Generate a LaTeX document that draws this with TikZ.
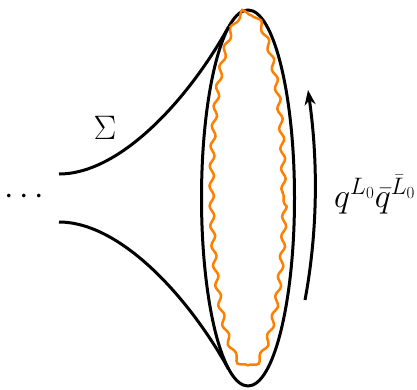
\RequirePackage{fix-cm}
\documentclass[tikz,border=0pt]{standalone}
\usepackage{xcolor}
\usepackage{tikz}
\usetikzlibrary{arrows.meta, decorations.pathmorphing}
\definecolor{loop-orange}{HTML}{FF8000}

\begin{document}
\begin{tikzpicture}[x=1pt, y=-1pt,
		tube/.style={
			draw=black, line width=3pt
		},
		wiggle/.style={
			draw=loop-orange, line width=2.5pt,
			decorate, decoration={snake, segment length=20pt, amplitude=2.2pt}
		},
		flow/.style={
			draw=black, line width=3pt,
			-{Stealth[length=15pt, width=11pt]}
		},
		lbl/.style={
			inner sep=0pt,
			font=\fontsize{34}{40}\selectfont
		}
		]
		
		\useasboundingbox (0,0) rectangle (417,389);
		
		% cut circle and the state on it
		\draw[tube] (248,198) ellipse [x radius=46.5pt, y radius=188pt];
		\draw[wiggle] (247.5,195) ellipse [x radius=36pt, y radius=178pt];
		
		% funnel ends
		\coordinate (upin) at (59,174);
		\coordinate (upout) at (228.5,27);
		\coordinate (lowin) at (59,222);
		\coordinate (lowout) at (228.5,369);
		
		\draw[tube] (upin) .. controls +(61,0) and +(-40.5,73) .. (upout);
		\draw[tube] (lowin) .. controls +(61,0) and +(-40.5,-73) .. (lowout);
		
		% time evolution
		\coordinate (arrlow) at (305,300);
		\coordinate (arrhigh) at (308,90);
		\draw[flow] (arrlow) .. controls (318,230) and (318,160) .. (arrhigh);
		
		% labels
		\node[lbl] (sigma) at (105,128) {$\Sigma$};
		\node[lbl] (dots) at (24,197) {$\cdots$};
		\node[lbl, anchor=base west] (weight) at (334,207) {$q^{L_0}\bar{q}^{\bar{L}_0}$};
		
	\end{tikzpicture}
\end{document}
